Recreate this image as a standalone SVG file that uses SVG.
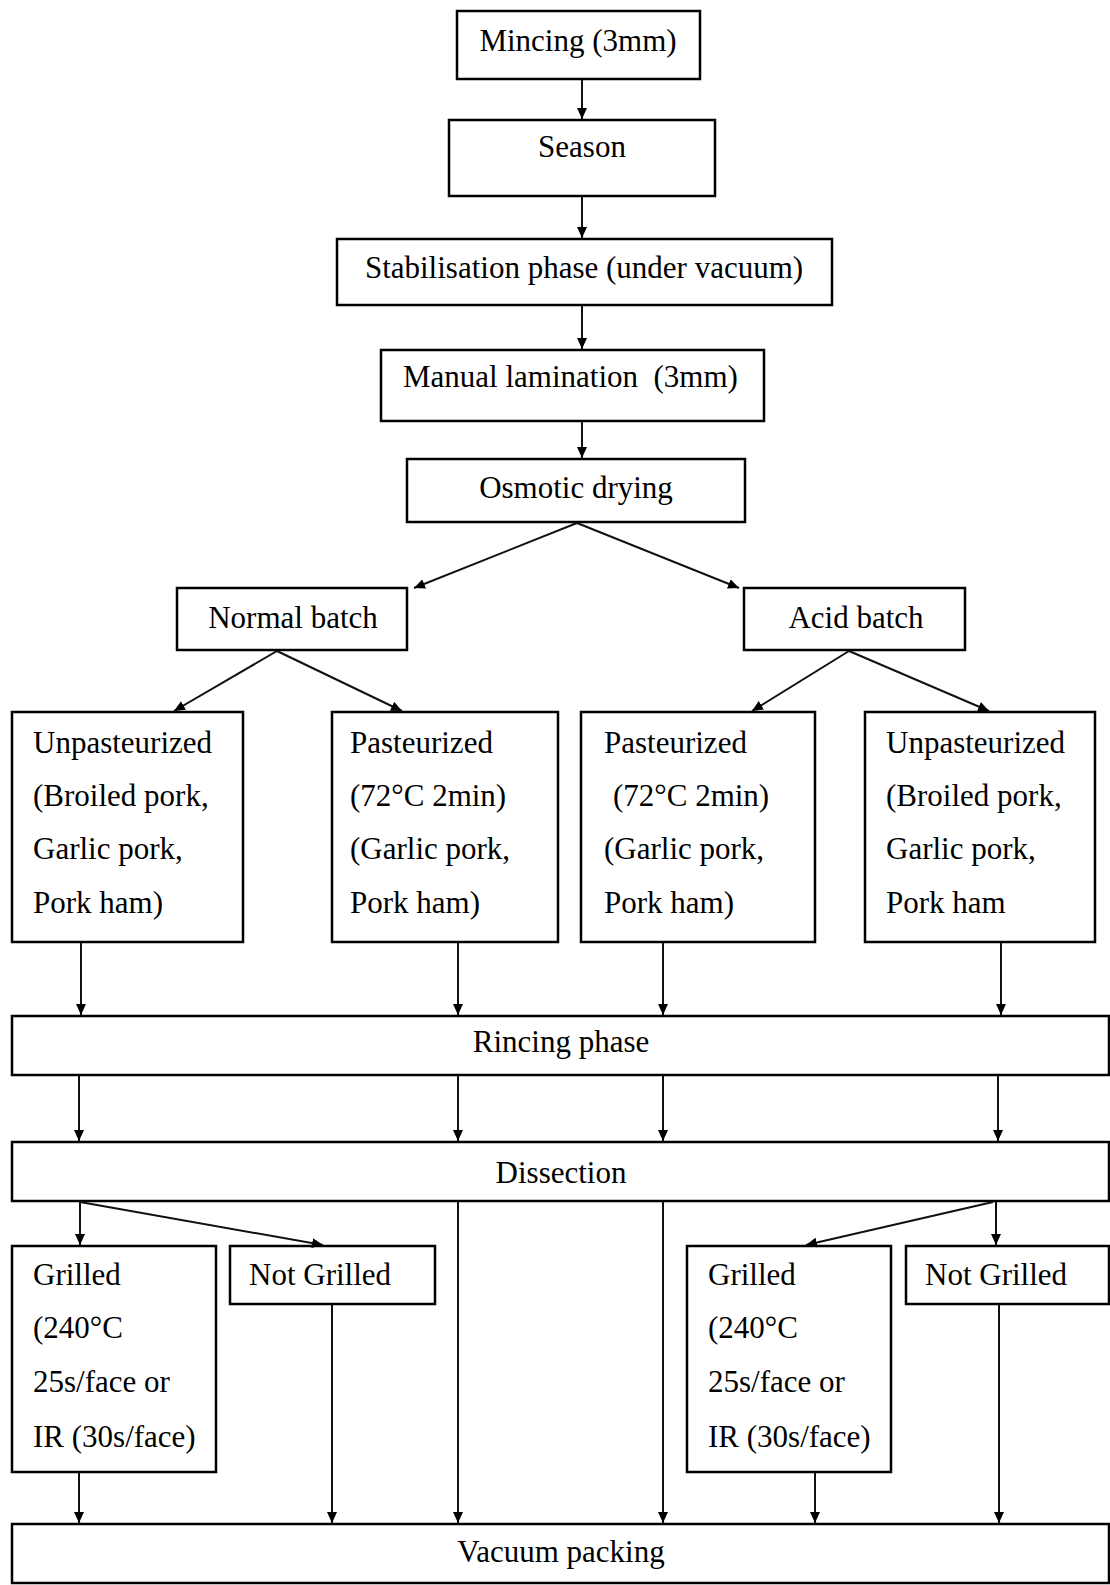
<svg xmlns="http://www.w3.org/2000/svg" width="1110" height="1585" viewBox="0 0 1110 1585">
  <style>
    .box { fill: #fff; stroke: #000; stroke-width: 2.5; }
    .t { font-family: "Liberation Serif", "Times New Roman", serif; font-size: 31px; fill: #000; }
    .c { text-anchor: middle; }
    .link { fill: none; stroke: #111; stroke-width: 2; marker-end: url(#head); }
  </style>
  <defs>
    <marker id="head" markerUnits="userSpaceOnUse" viewBox="0 0 11 10" markerWidth="11" markerHeight="10" refX="11" refY="5" orient="auto">
      <path d="M0,0 L11,5 L0,10 z" fill="#000"/>
    </marker>
  </defs>
  <rect width="1110" height="1585" fill="#fff"/>

  <!-- process steps -->
  <g id="mincing"><rect class="box" x="457" y="11" width="243" height="68"/><text class="t c" x="578" y="51">Mincing (3mm)</text></g>
  <g id="season"><rect class="box" x="449" y="120" width="266" height="76"/><text class="t c" x="582" y="157">Season</text></g>
  <g id="stabilisation"><rect class="box" x="337" y="239" width="495" height="66"/><text class="t c" x="584" y="278">Stabilisation phase (under vacuum)</text></g>
  <g id="lamination"><rect class="box" x="381" y="350" width="383" height="71"/><text class="t" x="403" y="387" xml:space="preserve">Manual lamination  (3mm)</text></g>
  <g id="osmotic"><rect class="box" x="407" y="459" width="338" height="63"/><text class="t c" x="576" y="498">Osmotic drying</text></g>

  <g id="normal-batch"><rect class="box" x="177" y="588" width="230" height="62"/><text class="t c" x="293" y="628">Normal batch</text></g>
  <g id="acid-batch"><rect class="box" x="744" y="588" width="221" height="62"/><text class="t c" x="856" y="628">Acid batch</text></g>

  <g id="unpast-normal"><rect class="box" x="12" y="712" width="231" height="230"/>
    <text class="t" x="33" y="753">Unpasteurized</text>
    <text class="t" x="33" y="806">(Broiled pork,</text>
    <text class="t" x="33" y="859">Garlic pork,</text>
    <text class="t" x="33" y="913">Pork ham)</text>
  </g>
  <g id="past-normal"><rect class="box" x="332" y="712" width="226" height="230"/>
    <text class="t" x="350" y="753">Pasteurized</text>
    <text class="t" x="350" y="806">(72°C 2min)</text>
    <text class="t" x="350" y="859">(Garlic pork,</text>
    <text class="t" x="350" y="913">Pork ham)</text>
  </g>
  <g id="past-acid"><rect class="box" x="581" y="712" width="234" height="230"/>
    <text class="t" x="604" y="753">Pasteurized</text>
    <text class="t" x="613" y="806">(72°C 2min)</text>
    <text class="t" x="604" y="859">(Garlic pork,</text>
    <text class="t" x="604" y="913">Pork ham)</text>
  </g>
  <g id="unpast-acid"><rect class="box" x="865" y="712" width="230" height="230"/>
    <text class="t" x="886" y="753">Unpasteurized</text>
    <text class="t" x="886" y="806">(Broiled pork,</text>
    <text class="t" x="886" y="859">Garlic pork,</text>
    <text class="t" x="886" y="913">Pork ham</text>
  </g>

  <g id="rincing"><rect class="box" x="12" y="1016" width="1097" height="59"/><text class="t c" x="561" y="1052">Rincing phase</text></g>
  <g id="dissection"><rect class="box" x="12" y="1142" width="1097" height="59"/><text class="t c" x="561" y="1183">Dissection</text></g>

  <g id="grilled-left"><rect class="box" x="12" y="1246" width="204" height="226"/>
    <text class="t" x="33" y="1285">Grilled</text>
    <text class="t" x="33" y="1338">(240°C</text>
    <text class="t" x="33" y="1392">25s/face or</text>
    <text class="t" x="33" y="1447">IR (30s/face)</text>
  </g>
  <g id="not-grilled-left"><rect class="box" x="230" y="1246" width="205" height="58"/><text class="t" x="249" y="1285">Not Grilled</text></g>
  <g id="grilled-right"><rect class="box" x="687" y="1246" width="204" height="226"/>
    <text class="t" x="708" y="1285">Grilled</text>
    <text class="t" x="708" y="1338">(240°C</text>
    <text class="t" x="708" y="1392">25s/face or</text>
    <text class="t" x="708" y="1447">IR (30s/face)</text>
  </g>
  <g id="not-grilled-right"><rect class="box" x="906" y="1246" width="203" height="58"/><text class="t" x="925" y="1285">Not Grilled</text></g>

  <g id="vacuum-packing"><rect class="box" x="12" y="1524" width="1097" height="59"/><text class="t c" x="561" y="1562">Vacuum packing</text></g>

  <!-- connectors -->
  <g id="connectors">
    <line class="link" x1="582" y1="80" x2="582" y2="119"/>
    <line class="link" x1="582" y1="197" x2="582" y2="238"/>
    <line class="link" x1="582" y1="306" x2="582" y2="349"/>
    <line class="link" x1="582" y1="422" x2="582" y2="458"/>

    <line class="link" x1="577" y1="523" x2="414" y2="588"/>
    <line class="link" x1="577" y1="523" x2="739" y2="588"/>

    <line class="link" x1="277" y1="651" x2="174" y2="711"/>
    <line class="link" x1="277" y1="651" x2="402" y2="711"/>
    <line class="link" x1="849" y1="651" x2="752" y2="711"/>
    <line class="link" x1="849" y1="651" x2="989" y2="711"/>

    <line class="link" x1="81" y1="943" x2="81" y2="1015"/>
    <line class="link" x1="458" y1="943" x2="458" y2="1015"/>
    <line class="link" x1="663" y1="943" x2="663" y2="1015"/>
    <line class="link" x1="1001" y1="943" x2="1001" y2="1015"/>

    <line class="link" x1="79" y1="1076" x2="79" y2="1141"/>
    <line class="link" x1="458" y1="1076" x2="458" y2="1141"/>
    <line class="link" x1="663" y1="1076" x2="663" y2="1141"/>
    <line class="link" x1="998" y1="1076" x2="998" y2="1141"/>

    <line class="link" x1="80" y1="1202" x2="80" y2="1245"/>
    <line class="link" x1="80" y1="1202" x2="323" y2="1245"/>
    <line class="link" x1="458" y1="1202" x2="458" y2="1523"/>
    <line class="link" x1="663" y1="1202" x2="663" y2="1523"/>
    <line class="link" x1="993" y1="1202" x2="806" y2="1245"/>
    <line class="link" x1="996" y1="1202" x2="996" y2="1245"/>

    <line class="link" x1="79" y1="1473" x2="79" y2="1523"/>
    <line class="link" x1="332" y1="1305" x2="332" y2="1523"/>
    <line class="link" x1="815" y1="1473" x2="815" y2="1523"/>
    <line class="link" x1="999" y1="1305" x2="999" y2="1523"/>
  </g>
</svg>
